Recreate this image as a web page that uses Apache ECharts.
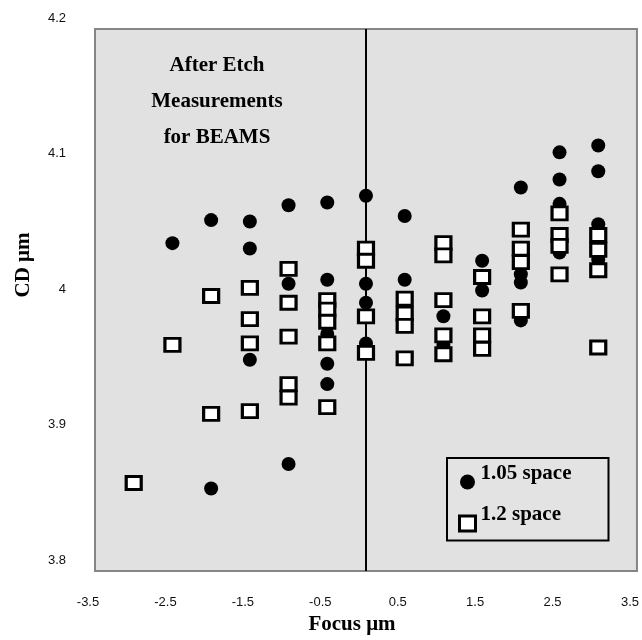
<!DOCTYPE html>
<html>
<head>
<meta charset="utf-8">
<script src="https://cdn.jsdelivr.net/npm/echarts@6/dist/echarts.min.js"></script>
<style>
  html, body { margin: 0; padding: 0; background: #fff; }
  #chart { width: 642px; height: 640px; }
</style>
</head>
<body>
<div id="chart"></div>
<script>
// focus settings (um), one column of measurements per step
const focusSteps = [-3, -2.5, -2, -1.5, -1, -0.5, 0, 0.5, 1, 1.5, 2, 2.5, 3]

// CD (um) per focus step, 1.05 space
const cd105 = [
  [],
  [4.042],
  [4.059, 3.861],
  [4.058, 4.038, 3.956],
  [4.070, 4.012, 3.879],
  [4.072, 4.015, 3.975, 3.953, 3.938],
  [4.077, 4.012, 3.998, 3.968],
  [4.062, 4.015, 3.995],
  [3.988, 3.967],
  [4.029, 4.007],
  [4.083, 4.019, 4.013, 3.985],
  [4.109, 4.089, 4.071, 4.035],
  [4.114, 4.095, 4.056, 4.030],
]

// CD (um) per focus step, 1.2 space
const cd12 = [
  [3.865],
  [3.967],
  [4.003, 3.916],
  [4.009, 3.986, 3.968, 3.918],
  [4.023, 3.998, 3.973, 3.938, 3.928],
  [4.000, 3.993, 3.984, 3.968, 3.921],
  [4.038, 4.029, 3.988, 3.961],
  [4.001, 3.990, 3.981, 3.957],
  [4.042, 4.033, 4.000, 3.974, 3.960],
  [4.017, 3.988, 3.974, 3.964],
  [4.052, 4.038, 4.028, 3.992],
  [4.064, 4.048, 4.040, 4.019],
  [4.048, 4.037, 4.022, 3.965],
]

const seriesNames = ['1.05 space', '1.2 space']
const bestFocus = 0

const serif = 'Liberation Serif'
const sans = 'Liberation Sans'

// flatten columns into [focus, cd] pairs
const toPoints = (cols) => {
  const pts = []
  cols.forEach((vals, i) => {
    vals.forEach((v) => pts.push([focusSteps[i], v]))
  })
  return pts
}

const chart = echarts.init(document.getElementById('chart'))

chart.setOption({
  animation: false,
  title: {
    text: 'After Etch\nMeasurements\nfor BEAMS',
    left: 217,
    top: 48,
    textAlign: 'center',
    padding: 0,
    textStyle: { fontFamily: serif, fontWeight: 'bold', fontSize: 21, lineHeight: 36, color: '#000' },
  },
  grid: {
    left: 95, top: 29, right: 2, bottom: 63,
    show: true,
    backgroundColor: '#e1e1e1',
    borderColor: '#858585',
    borderWidth: 2,
  },
  legend: {
    data: seriesNames,
    orient: 'vertical',
    left: 447,
    top: 458,
    itemWidth: 16,
    itemHeight: 15,
    itemGap: 15,
    padding: [5, 37, 8, 11],
    borderColor: '#000',
    borderWidth: 2,
    backgroundColor: '#e3e3e3',
    itemStyle: { borderWidth: 3 },
    // text sits a little above its marker, like a superscript
    formatter: '{t|{name}}',
    textStyle: {
      rich: {
        t: { fontFamily: serif, fontWeight: 'bold', fontSize: 21, color: '#000', lineHeight: 38, verticalAlign: 'top' },
      },
    },
  },
  xAxis: {
    type: 'value',
    min: -3.5,
    max: 3.5,
    interval: 0.5,
    name: 'Focus μm',
    nameLocation: 'middle',
    nameGap: 41,
    nameTextStyle: { fontFamily: serif, fontWeight: 'bold', fontSize: 21, color: '#000', padding: [0, 28, 0, 0] },
    axisLine: { show: false },
    axisTick: { show: false },
    splitLine: { show: false },
    axisLabel: {
      margin: 25,
      fontFamily: sans,
      fontSize: 13,
      color: '#111',
      padding: [0, 14, 0, 0],
      showMinLabel: true,
      showMaxLabel: true,
      formatter: (v) => (Math.round(v * 2) % 2 !== 0 ? String(v) : ''),
    },
  },
  yAxis: {
    type: 'value',
    min: 3.8,
    max: 4.2,
    interval: 0.1,
    name: 'CD μm',
    nameLocation: 'middle',
    nameRotate: 90,
    nameGap: 61,
    nameTextStyle: { fontFamily: serif, fontWeight: 'bold', fontSize: 21, color: '#000', padding: [0, 0, 0, 70] },
    axisLine: { show: false },
    axisTick: { show: false },
    splitLine: { show: false },
    axisLabel: {
      margin: 29,
      fontFamily: sans,
      fontSize: 13,
      color: '#111',
      verticalAlign: 'bottom',
      lineHeight: 22,
      formatter: (v) => String(+v.toFixed(1)),
    },
  },
  series: [
    {
      name: seriesNames[0],
      type: 'scatter',
      z: 2,
      symbol: 'circle',
      symbolSize: 14,
      itemStyle: { color: '#000', opacity: 1 },
      data: toPoints(cd105),
      markLine: {
        silent: true,
        z: 1,
        symbol: 'none',
        label: { show: false },
        lineStyle: { color: '#000', width: 2, type: 'solid' },
        data: [{ xAxis: bestFocus }],
      },
    },
    {
      name: seriesNames[1],
      type: 'scatter',
      z: 3,
      symbol: 'rect',
      symbolSize: [15, 13],
      itemStyle: { color: '#fff', borderColor: '#000', borderWidth: 3, opacity: 1 },
      data: toPoints(cd12),
    },
  ],
})
</script>
</body>
</html>
